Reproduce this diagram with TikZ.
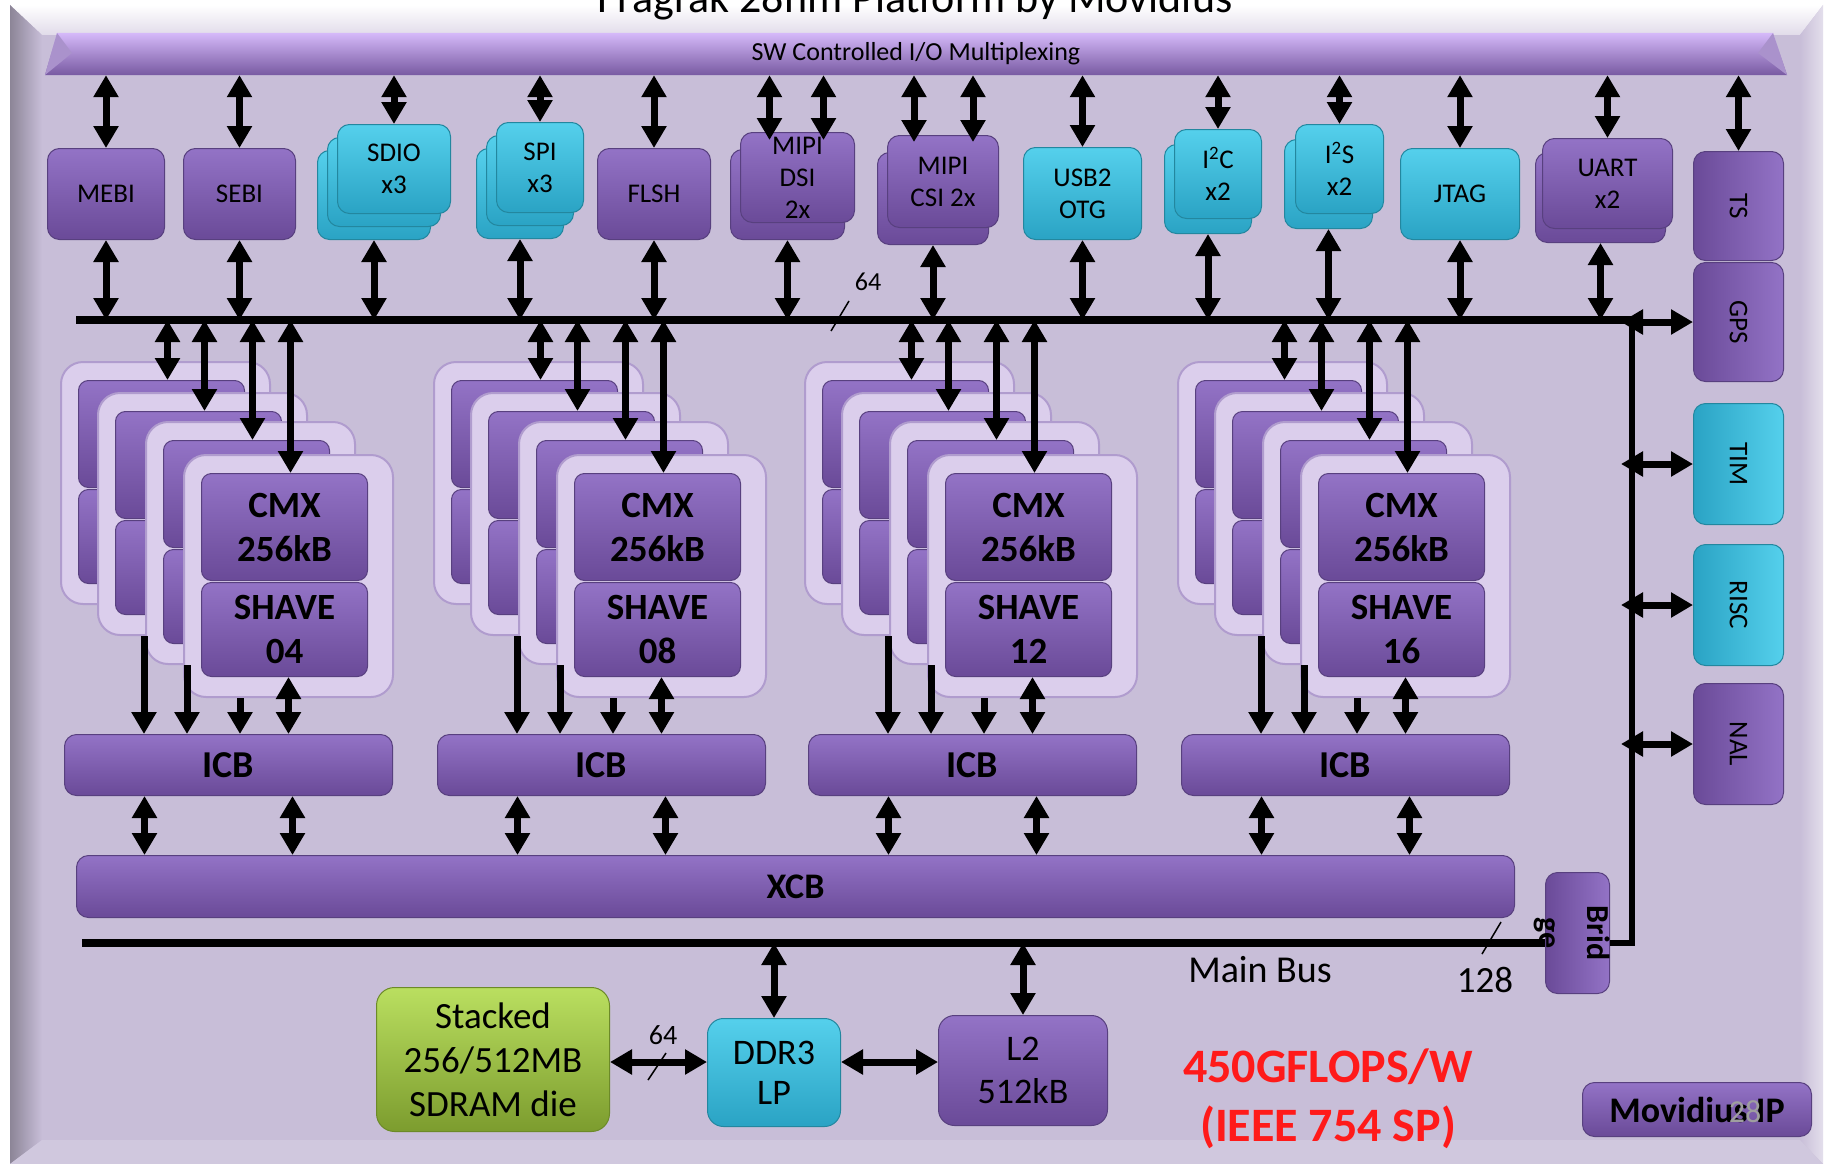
\documentclass[tikz,border=0pt]{standalone}
\usepackage{fontspec}
\setmainfont{Carlito}
\usetikzlibrary{positioning,arrows.meta}
\definecolor{bgl}{HTML}{C8BED8}
\definecolor{ptop}{HTML}{9373C6}
\definecolor{pbot}{HTML}{6A4A98}
\definecolor{pedge}{HTML}{58407F}
\definecolor{ctop}{HTML}{55D0EC}
\definecolor{cbot}{HTML}{2AA3C4}
\definecolor{cedge}{HTML}{23879F}
\definecolor{gtop}{HTML}{BADF60}
\definecolor{gbot}{HTML}{7C9C2E}
\definecolor{gedge}{HTML}{6C8A28}
\definecolor{cardfill}{HTML}{DBCEEC}
\definecolor{cardedge}{HTML}{B09CCE}
\definecolor{muxtop}{HTML}{D5B9F9}
\definecolor{muxmid}{HTML}{8E6EBB}
\definecolor{muxbot}{HTML}{785AA2}
\definecolor{flopred}{HTML}{FF1A1A}
\tikzset{
  blk/.style={rounded corners=12pt, draw=pedge, line width=1pt, inner sep=0pt, align=center,
    font=\fontsize{27}{32}\selectfont, anchor=north west},
  pbox/.style={blk, top color=ptop, bottom color=pbot},
  cbox/.style={blk, top color=ctop, bottom color=cbot, draw=cedge},
  gbox/.style={blk, top color=gtop, bottom color=gbot, draw=gedge},
  pvbox/.style={blk, left color=pbot, right color=ptop},
  cvbox/.style={blk, left color=cbot, right color=ctop, draw=cedge},
  card/.style={rounded corners=22pt, fill=cardfill, draw=cardedge, line width=2pt, inner sep=0pt,
    anchor=north west, minimum width=209pt, minimum height=242pt},
  core/.style={pbox, rounded corners=10pt, minimum width=166pt, font=\bfseries\fontsize{37}{44}\selectfont},
  biarrow/.style={line width=7pt, {Triangle[length=22pt,width=24pt]}-{Triangle[length=22pt,width=24pt]}},
  uniarrow/.style={line width=7pt, -{Triangle[length=22pt,width=24pt]}},
  bus/.style={line width=8pt},
  tick/.style={line width=1.5pt},
  lbl/.style={font=\fontsize{26}{32}\selectfont, inner sep=0pt},
}
\begin{document}
\begin{tikzpicture}[x=1pt,y=-1pt]
\useasboundingbox (0,0) rectangle (1825,1164);
\clip (0,0) rectangle (1825,1164);
\fill[white] (0,0) rectangle (1825,1164);
\fill[bgl] (10,5) rectangle (1823,1164);
\shade[top color=white, bottom color=bgl!55!white] (10,5) -- (1823,5) -- (1800,35) -- (42,35) -- cycle;
\shade[left color=bgl!70!black, right color=bgl] (10,5) -- (42,35) -- (42,1140) -- (10,1164) -- cycle;
\shade[left color=bgl, right color=bgl!50!white] (1823,5) -- (1823,1164) -- (1800,1140) -- (1800,35) -- cycle;
\fill[bgl!85!white] (10,1164) -- (42,1140) -- (1800,1140) -- (1823,1164) -- cycle;
\node[font=\fontsize{44}{50}\selectfont, anchor=base] (title) at (915,13) {Fragrak 28nm Platform by Movidius};

\shade[top color=muxtop, middle color=muxmid, bottom color=muxbot] (57,33) -- (1773,33) -- (1787,75) -- (45,75) -- cycle;
\fill[muxmid!75!white] (57,33) -- (72,53) -- (45,75) -- cycle;
\fill[muxmid!75!white] (1773,33) -- (1758,53) -- (1787,75) -- cycle;
\node[lbl, minimum width=1700pt, minimum height=42pt] (mux) at (916,54) {SW Controlled I/O Multiplexing};

\node[pbox, minimum width=117pt, minimum height=91pt] (mebi) at (47,148) {MEBI};
\node[pbox, minimum width=112pt, minimum height=91pt] (sebi) at (183,148) {SEBI};
\node[cbox, minimum width=113pt, minimum height=89pt] (sdioc) at (317,150) {};
\node[cbox, minimum width=113pt, minimum height=89pt] (sdiob) at (327,137) {};
\node[cbox, minimum width=113pt, minimum height=89pt] (sdio) at (337,124) {SDIO\\x3};
\node[cbox, minimum width=87pt, minimum height=90pt] (spic) at (476,148) {};
\node[cbox, minimum width=87pt, minimum height=90pt] (spib) at (486,135) {};
\node[cbox, minimum width=87pt, minimum height=90pt] (spi) at (496,122) {SPI\\x3};
\node[pbox, minimum width=113pt, minimum height=91pt] (flsh) at (597,148) {FLSH};
\node[pbox, minimum width=114pt, minimum height=90pt] (dsib) at (730,149) {};
\node[pbox, minimum width=114pt, minimum height=90pt] (dsi) at (740,132) {MIPI\\DSI\\2x};
\node[pbox, minimum width=111pt, minimum height=92pt] (csib) at (877,152) {};
\node[pbox, minimum width=111pt, minimum height=92pt] (csi) at (887,135) {MIPI\\CSI 2x};
\node[cbox, minimum width=118pt, minimum height=92pt] (usb) at (1023,147) {USB2\\OTG};
\node[cbox, minimum width=87pt, minimum height=89pt] (i2cb) at (1164,144) {};
\node[cbox, minimum width=87pt, minimum height=89pt] (i2c) at (1174,129) {I\textsuperscript{2}C\\x2};
\node[cbox, minimum width=88pt, minimum height=89pt] (i2sb) at (1284,139) {};
\node[cbox, minimum width=88pt, minimum height=89pt] (i2s) at (1295,124) {I\textsuperscript{2}S\\x2};
\node[cbox, minimum width=119pt, minimum height=91pt] (jtag) at (1400,148) {JTAG};
\node[pbox, minimum width=130pt, minimum height=90pt] (uartb) at (1535,152) {};
\node[pbox, minimum width=130pt, minimum height=90pt] (uart) at (1542,138) {UART\\x2};

\node[pvbox, minimum width=90pt, minimum height=109pt] (ts) at (1693,151) {\rotatebox{-90}{TS}};
\node[pvbox, minimum width=90pt, minimum height=119pt] (gps) at (1693,262) {\rotatebox{-90}{GPS}};
\node[cvbox, minimum width=90pt, minimum height=121pt] (tim) at (1693,403) {\rotatebox{-90}{TIM}};
\node[cvbox, minimum width=90pt, minimum height=121pt] (risc) at (1693,544) {\rotatebox{-90}{RISC}};
\node[pvbox, minimum width=90pt, minimum height=121pt] (nal) at (1693,683) {\rotatebox{-90}{NAL}};

\coordinate (busW) at (76,320);
\coordinate (busE) at (1632,320);
\coordinate (mainW) at (82,943);
\coordinate (turn) at (1632,943);
\coordinate (sideL) at (1621,0);
\coordinate (memrow) at (0,1062);
\draw[bus] (busW) -- (busE);

\draw[biarrow] (mebi.north |- mux.south) -- (mebi.north);
\draw[biarrow] (sebi.north |- mux.south) -- (sebi.north);
\draw[biarrow] (sdio.north |- mux.south) -- (sdio.north);
\draw[biarrow] (spi.north |- mux.south) -- (spi.north);
\draw[biarrow] (flsh.north |- mux.south) -- (flsh.north);
\coordinate (dsi1) at ([xshift=-28pt,yshift=-8pt]dsi.north);
\coordinate (dsi2) at ([xshift=26pt,yshift=-8pt]dsi.north);
\draw[biarrow] (dsi1 |- mux.south) -- (dsi1);
\draw[biarrow] (dsi2 |- mux.south) -- (dsi2);
\coordinate (csi1) at ([xshift=-29pt,yshift=-7pt]csi.north);
\coordinate (csi2) at ([xshift=30pt,yshift=-7pt]csi.north);
\draw[biarrow] (csi1 |- mux.south) -- (csi1);
\draw[biarrow] (csi2 |- mux.south) -- (csi2);
\draw[biarrow] (usb.north |- mux.south) -- (usb.north);
\draw[biarrow] (i2c.north |- mux.south) -- (i2c.north);
\draw[biarrow] (i2s.north |- mux.south) -- (i2s.north);
\draw[biarrow] (jtag.north |- mux.south) -- (jtag.north);
\draw[biarrow] (uart.north |- mux.south) -- (uart.north);
\draw[biarrow] (ts.north |- mux.south) -- (ts.north);

\draw[biarrow] (mebi.south) -- (mebi.south |- busW);
\draw[biarrow] (sebi.south) -- (sebi.south |- busW);
\draw[biarrow] (sdioc.south) -- (sdioc.south |- busW);
\draw[biarrow] (spic.south) -- (spic.south |- busW);
\draw[biarrow] (flsh.south) -- (flsh.south |- busW);
\draw[biarrow] (dsib.south) -- (dsib.south |- busW);
\draw[biarrow] (csib.south) -- (csib.south |- busW);
\draw[biarrow] (usb.south) -- (usb.south |- busW);
\draw[biarrow] (i2cb.south) -- (i2cb.south |- busW);
\draw[biarrow] (i2sb.south) -- (i2sb.south |- busW);
\draw[biarrow] (jtag.south) -- (jtag.south |- busW);
\draw[biarrow] (uartb.south) -- (uartb.south |- busW);

\node[lbl] (w64a) at (868,282) {64};
\draw[tick] (849,301) -- (831,331);

\node[pbox, minimum width=1438pt, minimum height=62pt, font=\bfseries\fontsize{36}{40}\selectfont] (xcb) at (76,855) {XCB};

\foreach \fx/\sid [count=\i] in {183/04,556/08,927/12,1300/16}{
  \foreach \dx/\dy [count=\k] in {-123/-93,-86/-62,-38/-33}{
    \node[card] (card\i\k) at ({\fx+\dx},{454+\dy}) {};
    \node[core, minimum height=107pt] (cmx\i\k) at ({\fx+\dx+18},{454+\dy+19}) {};
    \node[core, minimum height=94pt] (shv\i\k) at ({\fx+\dx+18},{454+\dy+128}) {};
    \coordinate (up) at ([xshift=6pt]cmx\i\k.north);
    \draw[biarrow] (up |- busW) -- (up);
  }
  \node[card] (card\i4) at (\fx,454) {};
  \node[core, minimum height=107pt] (cmx\i4) at ({\fx+18},473) {CMX\\256kB};
  \node[core, minimum height=94pt] (shv\i4) at ({\fx+18},582) {SHAVE\\\sid};
  \coordinate (up) at ([xshift=6pt]cmx\i4.north);
  \draw[biarrow] (up |- busW) -- (up);
  \node[pbox, minimum width=328pt, minimum height=61pt, font=\bfseries\fontsize{38}{40}\selectfont] (icb\i) at ({\fx-119},734) {ICB};
  \coordinate (dn1) at ([xshift=47pt]card\i2.south west);
  \coordinate (dn2) at ([xshift=42pt]card\i3.south west);
  \coordinate (dn3) at ([xshift=57pt]card\i4.south west);
  \coordinate (dn4) at ([xshift=4pt]shv\i4.south);
  \draw[uniarrow] (dn1) -- (dn1 |- icb\i.north);
  \draw[uniarrow] (dn2) -- (dn2 |- icb\i.north);
  \draw[uniarrow] (dn3) -- (dn3 |- icb\i.north);
  \draw[biarrow] (dn4) -- (dn4 |- icb\i.north);
  \coordinate (ic1) at ([xshift=-84pt]icb\i.south);
  \coordinate (ic2) at ([xshift=64pt]icb\i.south);
  \draw[biarrow] (ic1) -- (ic1 |- xcb.north);
  \draw[biarrow] (ic2) -- (ic2 |- xcb.north);
}

\node[pvbox, minimum width=64pt, minimum height=121pt] (bridge) at (1545,872) {};
\draw[bus] (mainW) -- (bridge.west |- mainW);
\draw[line width=6pt] (bridge.east |- mainW) -- (turn) -- (busE);
\node[font=\bfseries\fontsize{32}{48}\selectfont] (bridgetxt) at ([xshift=-4pt]bridge.center)
  {\rotatebox{-90}{\begin{tabular}{@{}c@{}}Brid\\ge\end{tabular}}};
\draw[biarrow] (gps.west -| sideL) -- (gps.west);
\draw[biarrow] (tim.west -| sideL) -- (tim.west);
\draw[biarrow] (risc.west -| sideL) -- (risc.west);
\draw[biarrow] (nal.west -| sideL) -- (nal.west);
\node[lbl, font=\fontsize{38}{40}\selectfont] (mainbus) at (1260,970) {Main Bus};
\node[lbl, font=\fontsize{37}{40}\selectfont] (w128) at (1485,980) {128};
\draw[tick] (1501,922) -- (1482,954);

\node[gbox, rounded corners=18pt, minimum width=233pt, minimum height=144pt, font=\fontsize{37}{44}\selectfont] (sdram) at (376,987) {Stacked\\256/512MB\\SDRAM die};
\node[cbox, rounded corners=16pt, minimum width=133pt, minimum height=108pt, font=\fontsize{36}{40}\selectfont] (ddr) at (707,1018) {DDR3\\LP};
\node[pbox, rounded corners=16pt, minimum width=169pt, minimum height=110pt, font=\fontsize{36}{43}\selectfont] (l2) at (938,1015) {L2\\512kB};
\draw[biarrow] (ddr.north |- mainW) -- (ddr.north);
\draw[biarrow] (l2.north |- mainW) -- (l2.north);
\draw[biarrow] (sdram.east |- memrow) -- (ddr.west |- memrow);
\draw[biarrow] (ddr.east |- memrow) -- (l2.west |- memrow);
\node[lbl, font=\fontsize{28}{32}\selectfont] (w64b) at (663,1035) {64};
\draw[tick] (666,1053) -- (648,1080);

\node[font=\bfseries\fontsize{48}{56}\selectfont, text=flopred] (flops) at (1328,1067) {450GFLOPS/W};
\node[font=\bfseries\fontsize{48}{56}\selectfont, text=flopred] (ieee) at (1328,1127) {(IEEE 754 SP)};
\node[pbox, minimum width=229pt, minimum height=54pt, font=\bfseries\fontsize{36}{40}\selectfont] (movip) at (1582,1082) {Movidius IP};
\node[font=\fontsize{32}{36}\selectfont, text=gray!75] (pgno) at (1745,1112) {28};
\end{tikzpicture}
\end{document}
